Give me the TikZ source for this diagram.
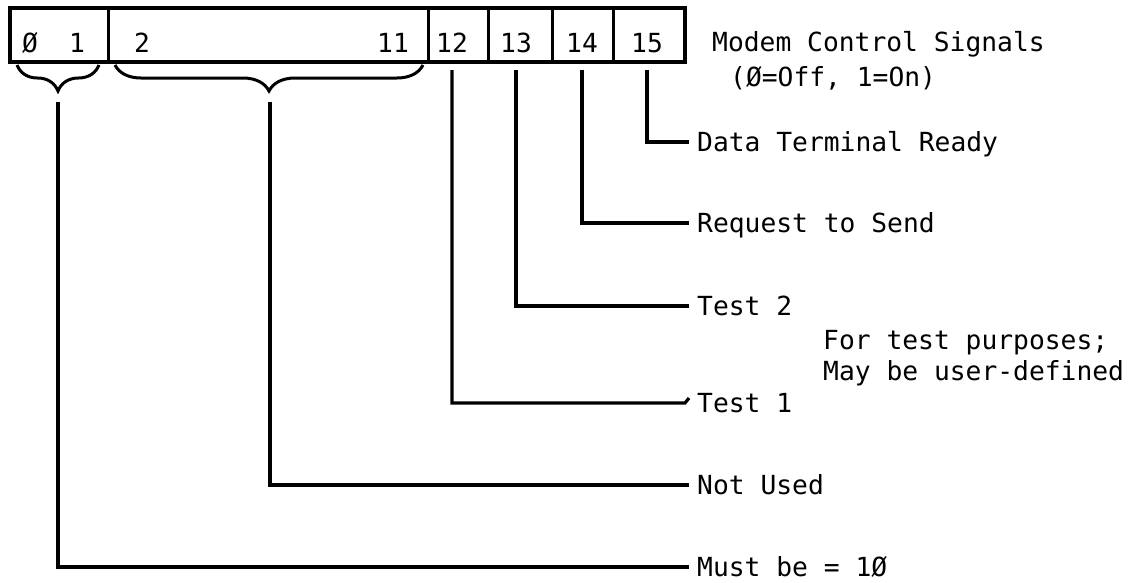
\documentclass[tikz,border=0pt]{standalone}
\usepackage{fontspec}
\setmonofont{DejaVu Sans Mono}
\usetikzlibrary{decorations.pathreplacing}

\tikzset{
	bit/.style={inner sep=0pt, text height=19pt, text depth=0pt, font=\ttfamily\fontsize{26.3}{30}\selectfont},
	sig/.style={bit, anchor=west, inner xsep=8pt},
	note/.style={bit, anchor=west},
	lead/.style={line width=3.2pt},
	brc/.style={decorate, decoration={brace, amplitude=26pt}, line width=3pt}
}

\begin{document}
\begin{tikzpicture}[x=1pt,y=-1pt]
	\useasboundingbox (0,0) rectangle (1146,582);

	% rejestr
	\draw[line width=3.2pt] (10,8) rectangle (685,62);
	\foreach \x in {108,428,488,552,613} {
		\draw[line width=3pt] (\x,8) -- (\x,62);
	}
	\node[bit] (n0) at (30,43) {Ø};
	\node[bit] (n1) at (77,43) {1};
	\node[bit] (n2) at (142,43) {2};
	\node[bit] (n11) at (393,43) {11};
	\node[bit] (n12) at (452,43) {12};
	\node[bit] (n13) at (516,43) {13};
	\node[bit] (n14) at (582,43) {14};
	\node[bit] (n15) at (647,43) {15};

	\node[note] (modem) at (712,42) {Modem Control Signals};
	\node[note] (onoff) at (730,77) {(Ø=Off, 1=On)};

	% klamry
	\draw[brc] (99,65) -- (17,65);
	\draw[brc] (423,65) -- (115,65);
	\coordinate (lo) at (58,102);
	\coordinate (hi) at (270,102);
	\coordinate (top) at (0,70);

	% opisy
	\node[sig] (dtr) at (689,142) {Data Terminal Ready};
	\node[sig] (rts) at (689,223) {Request to Send};
	\node[sig] (t2) at (689,306) {Test 2};
	\node[note] (tp1) at (823,340) {For test purposes;};
	\node[note] (tp2) at (823,371) {May be user-defined};
	\node[sig] (t1) at (689,403) {Test 1};
	\node[sig] (nu) at (689,485) {Not Used};
	\node[sig] (mb) at (689,567) {Must be = 1Ø};

	\draw[lead] (n15 |- top) |- (dtr.west);
	\draw[lead] (n14 |- top) |- (rts.west);
	\draw[lead] (n13 |- top) |- (t2.west);
	\draw[lead] (n12 |- top) |- ([xshift=-4pt]t1.west) -- ([yshift=5pt]t1.west);
	\draw[lead] (hi) |- (nu.west);
	\draw[lead] (lo) |- (mb.west);
\end{tikzpicture}
\end{document}
